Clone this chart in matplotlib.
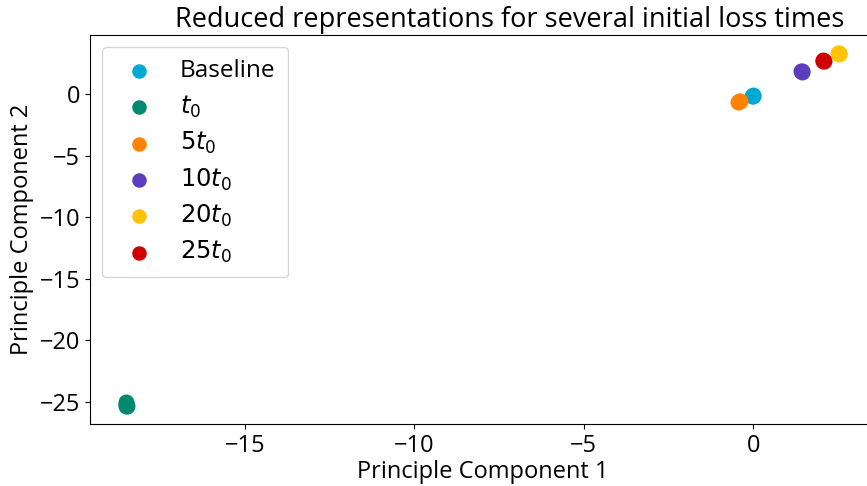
import matplotlib
matplotlib.use('Agg')
import matplotlib.pyplot as plt

# reduced (PCA) coordinates for each initial loss time
labels = ['Baseline', '$t_0$', '$5t_0$', '$10t_0$', '$20t_0$', '$25t_0$']
colors = ['#00A9CF', '#00896F', '#FF8300', '#5B3DC0', '#FFC300', '#D10000']
pc1 = [
    [-0.05, -0.02, 0.0],
    [-18.5, -18.47, -18.52, -18.5],
    [-0.42, -0.4, -0.44],
    [1.42, 1.45, 1.44],
    [2.5, 2.52, 2.53],
    [2.05, 2.07, 2.08],
]
pc2 = [
    [-0.1, -0.05, -0.12],
    [-25.0, -25.3, -25.15, -25.35],
    [-0.55, -0.5, -0.6],
    [1.9, 1.95, 1.85],
    [3.35, 3.4, 3.3],
    [2.75, 2.8, 2.7],
]

plt.rcParams['font.family'] = ['Open Sans', 'DejaVu Sans']
plt.rcParams['font.size'] = 17

fig = plt.figure(figsize=(8.67, 4.86), dpi=100)
# the original axes run slightly past the right edge of the image
ax = fig.add_axes([0.1038, 0.1276, 0.905, 0.8004])

for x, y, lab, c in zip(pc1, pc2, labels, colors):
    ax.scatter(x, y, s=110, color=c, label=lab)

ax.set_title('Reduced representations for several initial loss times',
             fontsize=19.5, x=0.535)
ax.set_xlabel('Principle Component 1', labelpad=2)
ax.set_ylabel('Principle Component 2')
ax.set_xticks([-15, -10, -5, 0])
ax.set_yticks([0, -5, -10, -15, -20, -25])
ax.legend(loc='upper left', fontsize=17.5, handletextpad=0.7, labelspacing=0.42,
          borderpad=0.5, markerscale=0.9)

fig.savefig('out.png', dpi=100)
